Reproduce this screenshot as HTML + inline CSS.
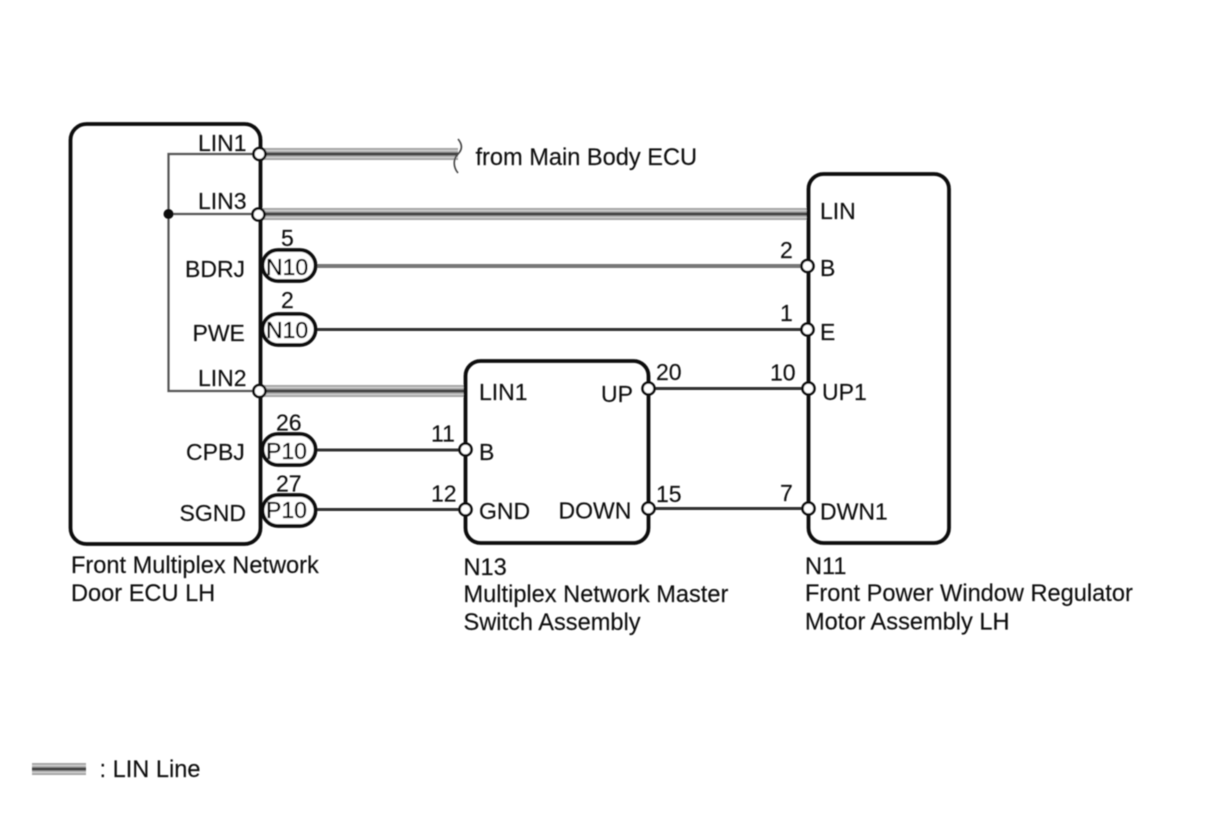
<!DOCTYPE html>
<html><head><meta charset="utf-8"><style>
html,body{margin:0;padding:0;background:#fff;width:1210px;height:816px;overflow:hidden}
svg{display:block}
text{font-family:"Liberation Sans",sans-serif;font-size:23px;fill:#111;stroke:#111;stroke-width:.15}
.c{font-size:23.6px}
.p{fill:#000;stroke:#000;stroke-width:.35}
.box{fill:none;stroke:#111;stroke-width:3.8}
.band{stroke:#a6a6a6;stroke-width:12;fill:none}
.bandc{stroke:#444;stroke-width:3;fill:none}
.bandw{stroke:#d8d8d8;stroke-width:1;fill:none}
.w{stroke:#333;stroke-width:3;fill:none}
.pin{fill:#fff;stroke:#111;stroke-width:2.6}
.pill{fill:#fff;stroke:#111;stroke-width:3.8}
</style></head><body>
<svg width="1210" height="816" viewBox="0 0 1210 816" xmlns="http://www.w3.org/2000/svg">
<defs><filter id="b" x="-2%" y="-2%" width="104%" height="104%"><feGaussianBlur stdDeviation="0.45"/></filter></defs>
<g filter="url(#b)">
<!-- LIN bands -->
<path class="band" d="M259 154H458M259 214H808M259 391H465"/>
<path class="bandw" d="M259 150.5H458M259 157.5H458M259 210.5H808M259 217.5H808M259 387.5H465M259 394.5H465"/>
<path class="bandc" d="M259 154H458M259 214H808M259 391H465"/>
<!-- legend -->
<path d="M32 769H86" stroke="#a6a6a6" stroke-width="12" fill="none"/>
<path d="M32 765.5H86M32 772.5H86" stroke="#d8d8d8" stroke-width="1" fill="none"/>
<path d="M32 769H86" stroke="#444" stroke-width="3" fill="none"/>
<!-- break mark -->
<path d="M458 139C463 145 462 150 458 154C453 159 453 167 458 173" fill="none" stroke="#444" stroke-width="1.6"/>
<!-- plain wires -->
<path d="M168.500 214V154H259M168.500 214V391H259M168.500 214H259" fill="none" stroke="#555" stroke-width="2.2"/>
<path d="M315 266H807" stroke="#777" stroke-width="4" fill="none"/>
<path class="w" d="M315 329.500H807M315 450H465M315 509.500H465M648 388.500H808M648 508.500H808"/>
<!-- boxes -->
<rect class="box" x="70.500" y="124" width="190" height="420" rx="16"/>
<rect class="box" x="808.500" y="174" width="140.500" height="369" rx="15"/>
<rect class="box" x="465.500" y="361" width="183" height="182" rx="15"/>
<circle cx="168.500" cy="214" r="5" fill="#111"/>
<!-- pins -->
<circle class="pin" cx="259.500" cy="154" r="6"/>
<circle class="pin" cx="258.500" cy="214.500" r="6"/>
<circle class="pin" cx="259.500" cy="391" r="6"/>
<circle class="pin" cx="807.500" cy="266" r="6"/>
<circle class="pin" cx="807.500" cy="329.500" r="6"/>
<circle class="pin" cx="808.500" cy="388.500" r="6"/>
<circle class="pin" cx="808.500" cy="508.500" r="6"/>
<circle class="pin" cx="648.500" cy="388.500" r="6"/>
<circle class="pin" cx="648.500" cy="508.500" r="6"/>
<circle class="pin" cx="465.500" cy="449.500" r="6"/>
<circle class="pin" cx="465.500" cy="509.500" r="6"/>
<!-- pills -->
<rect class="pill" x="262.500" y="250" width="53" height="31" rx="15.500"/>
<rect class="pill" x="262.500" y="314" width="53" height="31" rx="15.500"/>
<rect class="pill" x="262.500" y="434" width="53" height="31" rx="15.500"/>
<rect class="pill" x="262.500" y="495" width="53" height="31" rx="15.500"/>
<!-- text -->
<text x="198" y="151">LIN1</text>
<text x="198" y="209">LIN3</text>
<text x="185" y="277">BDRJ</text>
<text x="192.500" y="341">PWE</text>
<text x="198" y="386">LIN2</text>
<text x="186" y="460">CPBJ</text>
<text x="179.500" y="521">SGND</text>
<text x="281" y="246">5</text>
<text x="281" y="308">2</text>
<text x="276" y="430.500">26</text>
<text x="276" y="491.500">27</text>
<text class="p" x="266" y="275">N10</text>
<text class="p" x="266" y="338">N10</text>
<text class="p" x="266" y="459">P10</text>
<text class="p" x="266" y="518">P10</text>
<text class="c" x="475.500" y="165">from Main Body ECU</text>
<text x="820" y="219">LIN</text>
<text x="820" y="276">B</text>
<text x="820" y="340">E</text>
<text x="822" y="400">UP1</text>
<text x="820" y="519.500">DWN1</text>
<text x="780" y="258">2</text>
<text x="780" y="321">1</text>
<text x="770" y="380.500">10</text>
<text x="780" y="501">7</text>
<text x="656" y="380">20</text>
<text x="656" y="502">15</text>
<text x="479" y="400">LIN1</text>
<text x="601" y="402">UP</text>
<text x="479" y="460">B</text>
<text x="479" y="519">GND</text>
<text x="558.500" y="518.500">DOWN</text>
<text x="431" y="441.500">11</text>
<text x="431" y="501.500">12</text>
<text class="c" x="71" y="573">Front Multiplex Network</text>
<text class="c" x="71" y="601">Door ECU LH</text>
<text class="c" x="463.500" y="575">N13</text>
<text class="c" x="463.500" y="602">Multiplex Network Master</text>
<text class="c" x="463.500" y="630">Switch Assembly</text>
<text class="c" x="805" y="574">N11</text>
<text class="c" x="805" y="601">Front Power Window Regulator</text>
<text class="c" x="805" y="629.500">Motor Assembly LH</text>
<text class="c" x="99.500" y="777">: LIN Line</text>
</g>
</svg>
</body></html>
